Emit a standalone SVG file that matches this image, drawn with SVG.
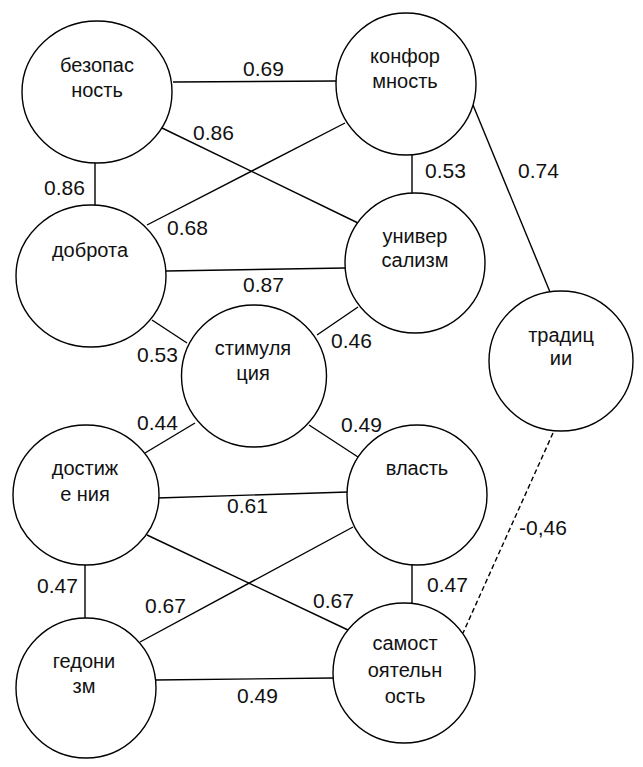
<svg xmlns="http://www.w3.org/2000/svg" width="643" height="767" viewBox="0 0 643 767">
<style>
.n{fill:#fff;stroke:#000;stroke-width:1.4}
.t{font-family:'Liberation Sans',Arial,sans-serif;font-size:20px;fill:#111;text-anchor:middle}
.c{stroke:#000;stroke-width:1.4;fill:none}
.d{stroke-dasharray:5 3}
.l{font-family:'Liberation Sans',Arial,sans-serif;font-size:21px;fill:#111}
</style>
<rect width="643" height="767" fill="#fff"/>
<g id="connectors">
<line class="c" x1="173" y1="82" x2="336" y2="81"/>
<line class="c" x1="162" y1="128" x2="358" y2="223"/>
<line class="c" x1="147" y1="225" x2="345" y2="123"/>
<line class="c" x1="95" y1="163" x2="95" y2="205"/>
<line class="c" x1="412" y1="155" x2="412" y2="193"/>
<line class="c" x1="473" y1="105" x2="550" y2="292"/>
<line class="c" x1="166" y1="271" x2="345" y2="268"/>
<line class="c" x1="152" y1="320" x2="187" y2="343"/>
<line class="c" x1="358" y1="307" x2="317" y2="335"/>
<line class="c" x1="195" y1="423" x2="145" y2="453"/>
<line class="c" x1="309" y1="425" x2="358" y2="457"/>
<line class="c" x1="157" y1="498" x2="348" y2="492"/>
<line class="c" x1="85" y1="565" x2="85" y2="618"/>
<line class="c" x1="147" y1="535" x2="348" y2="630"/>
<line class="c" x1="140" y1="642" x2="353" y2="527"/>
<line class="c" x1="155" y1="680" x2="333" y2="678"/>
<line class="c" x1="412" y1="565" x2="412" y2="603"/>
<line class="c d" x1="553" y1="433" x2="463" y2="633"/>
<text class="l" x="243" y="76">0.69</text>
<text class="l" x="193" y="140">0.86</text>
<text class="l" x="167" y="235">0.68</text>
<text class="l" x="44" y="195">0.86</text>
<text class="l" x="425" y="178">0.53</text>
<text class="l" x="518" y="178">0.74</text>
<text class="l" x="243" y="292">0.87</text>
<text class="l" x="137" y="362">0.53</text>
<text class="l" x="331" y="348">0.46</text>
<text class="l" x="137" y="430">0.44</text>
<text class="l" x="341" y="432">0.49</text>
<text class="l" x="227" y="513">0.61</text>
<text class="l" x="37" y="593">0.47</text>
<text class="l" x="313" y="608">0.67</text>
<text class="l" x="145" y="613">0.67</text>
<text class="l" x="237" y="703">0.49</text>
<text class="l" x="427" y="592">0.47</text>
<text class="l" x="519" y="535">-0,46</text>
</g>
<g id="bezopasnost"><ellipse class="n" cx="97" cy="92" rx="75" ry="71"/><text class="t" x="97" y="72">безопас</text><text class="t" x="97" y="97">ность</text></g>
<g id="konformnost"><ellipse class="n" cx="406" cy="84" rx="70" ry="71"/><text class="t" x="405" y="63">конфор</text><text class="t" x="405" y="88">мность</text></g>
<g id="dobrota"><ellipse class="n" cx="91" cy="276" rx="75" ry="71"/><text class="t" x="90" y="257">доброта</text></g>
<g id="universalizm"><ellipse class="n" cx="415" cy="263" rx="70" ry="70"/><text class="t" x="415" y="243">универ</text><text class="t" x="415" y="267">сализм</text></g>
<g id="stimulyatsiya"><ellipse class="n" cx="254" cy="376" rx="72.5" ry="71"/><text class="t" x="253" y="355">стимуля</text><text class="t" x="253" y="380">ция</text></g>
<g id="traditsii"><ellipse class="n" cx="561" cy="361" rx="72" ry="70"/><text class="t" x="561" y="342">традиц</text><text class="t" x="561" y="365">ии</text></g>
<g id="dostizheniya"><ellipse class="n" cx="86" cy="495" rx="73" ry="70"/><text class="t" x="85" y="475">достиж</text><text class="t" x="85" y="501">е ния</text></g>
<g id="vlast"><ellipse class="n" cx="417" cy="495" rx="70" ry="70"/><text class="t" x="417" y="475">власть</text></g>
<g id="gedonizm"><ellipse class="n" cx="86" cy="688" rx="70" ry="70"/><text class="t" x="84" y="668">гедони</text><text class="t" x="84" y="693">зм</text></g>
<g id="samostoyatelnost"><ellipse class="n" cx="404" cy="673" rx="71" ry="70"/><text class="t" x="405" y="650">самост</text><text class="t" x="405" y="677">оятельн</text><text class="t" x="405" y="703">ость</text></g>
</svg>
